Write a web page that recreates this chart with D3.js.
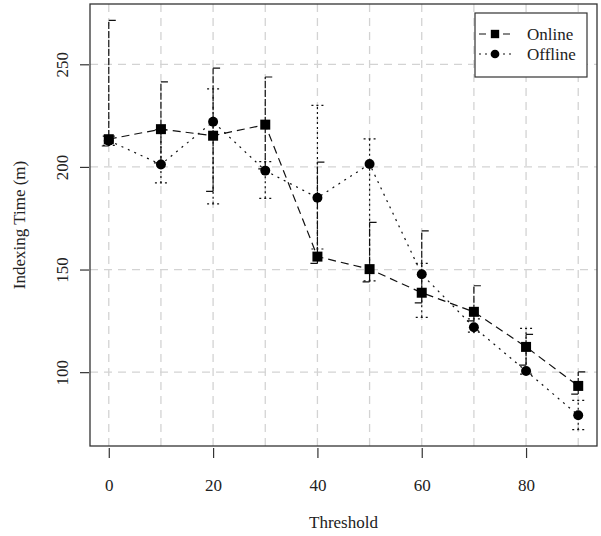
<!DOCTYPE html>
<html>
<head>
<meta charset="utf-8">
<script src="https://cdn.jsdelivr.net/npm/d3@7"></script>
<style>
  body { margin: 0; background: #fff; }
  text { font-family: "Liberation Serif", "DejaVu Serif", serif; fill: #222; }
</style>
</head>
<body>
<svg id="chart" width="601" height="536"></svg>
<script>
// values
var thresholds = [0, 10, 20, 30, 40, 50, 60, 70, 80, 90];

var onlineMean  = [213.5, 218.4, 215.2, 220.6, 156.3, 150.2, 138.7, 129.4, 112.3, 93.3];
var onlineLow   = [210.2, 202.0, 188.1, 199.0, 153.0, 144.0, 133.8, 125.0, 103.4, 89.3];
var onlineHigh  = [271.4, 241.4, 248.1, 243.8, 202.3, 173.0, 168.8, 142.1, 118.4, 100.1];

var offlineMean = [212.8, 201.2, 222.0, 198.2, 185.0, 201.4, 147.7, 121.9, 100.6, 79.0];
var offlineLow  = [210.5, 192.2, 182.0, 184.7, 160.0, 144.5, 126.7, 119.5, 99.0, 72.0];
var offlineHigh = [215.0, 218.0, 238.0, 202.6, 230.0, 213.7, 153.0, 126.0, 121.3, 86.3];

var xTicks = [0, 20, 40, 60, 80];
var yTicks = [100, 150, 200, 250];
var gridX = [0, 10, 20, 30, 40, 50, 60, 70, 80, 90];

var series = [
    { name: "Online", mean: onlineMean, low: onlineLow, high: onlineHigh, dash: "8,5", bar: "7,2", shape: "square" },
    { name: "Offline", mean: offlineMean, low: offlineLow, high: offlineHigh, dash: "2,5", bar: "2,3", shape: "circle" }
];

var svg = d3.select("#chart");
var margin = { top: 4, right: 4, bottom: 90, left: 90 };
var width = 601, height = 536;

// R style 4% padding on both axes
var allVals = onlineLow.concat(offlineLow, onlineHigh, offlineHigh);
var yMin = d3.min(allVals), yMax = d3.max(allVals);
var yPad = (yMax - yMin) * 0.04;
var xPad = (d3.max(thresholds) - d3.min(thresholds)) * 0.04;

var x = d3.scaleLinear()
    .domain([d3.min(thresholds) - xPad, d3.max(thresholds) + xPad])
    .range([margin.left, width - margin.right]);

var y = d3.scaleLinear()
    .domain([yMin - yPad, yMax + yPad])
    .range([height - margin.bottom, margin.top]);

// grid
svg.append("g")
    .selectAll("line")
    .data(gridX)
    .join("line")
    .attr("x1", d => x(d)).attr("x2", d => x(d))
    .attr("y1", margin.top).attr("y2", height - margin.bottom)
    .attr("stroke", "#d3d3d3")
    .attr("stroke-width", 1.3)
    .attr("stroke-dasharray", "8,6");

svg.append("g")
    .selectAll("line")
    .data(yTicks)
    .join("line")
    .attr("x1", margin.left).attr("x2", width - margin.right)
    .attr("y1", d => y(d)).attr("y2", d => y(d))
    .attr("stroke", "#d3d3d3")
    .attr("stroke-width", 1.3)
    .attr("stroke-dasharray", "8,6");

// axes
var xAxis = svg.append("g")
    .attr("transform", `translate(0,${height - margin.bottom + 2})`)
    .call(d3.axisBottom(x).tickValues(xTicks).tickSize(10).tickPadding(21).tickSizeOuter(0));
xAxis.select(".domain").remove();
xAxis.selectAll("line").attr("stroke", "#333").attr("stroke-width", 1.2);
xAxis.selectAll("text").style("font-size", "17px").attr("fill", "#222");

var yAxis = svg.append("g")
    .attr("transform", `translate(${margin.left - 1},0)`)
    .call(d3.axisLeft(y).tickValues(yTicks).tickSize(9).tickSizeOuter(0));
yAxis.select(".domain").remove();
yAxis.selectAll("line").attr("stroke", "#333").attr("stroke-width", 1.2);
yAxis.selectAll(".tick text")
    .style("font-size", "17px")
    .attr("fill", "#222")
    .attr("text-anchor", "middle")
    .attr("transform", "rotate(-90)")
    .attr("x", 0)
    .attr("y", -27)
    .attr("dy", "0.35em");

svg.append("text")
    .attr("x", (margin.left + width - margin.right) / 2)
    .attr("y", height - 8)
    .attr("text-anchor", "middle")
    .style("font-size", "17px")
    .text("Threshold");

svg.append("text")
    .attr("transform", `translate(25,${(margin.top + height - margin.bottom) / 2}) rotate(-90)`)
    .attr("text-anchor", "middle")
    .style("font-size", "17px")
    .text("Indexing Time (m)");

// error bars
series.forEach(function (s) {
    var g = svg.append("g").attr("stroke", "#111").attr("stroke-width", 1.2).attr("fill", "none");
    g.selectAll("line.bar")
        .data(thresholds)
        .join("line")
        .attr("class", "bar")
        .attr("x1", d => x(d)).attr("x2", d => x(d))
        .attr("y1", (d, i) => y(s.low[i])).attr("y2", (d, i) => y(s.high[i]))
        .attr("stroke-dasharray", s.bar);
    if (s.shape === "square") {
        g.selectAll("path.cap")
            .data(thresholds)
            .join("path")
            .attr("class", "cap")
            .attr("d", (d, i) => "M" + x(d) + "," + y(s.high[i]) + "h7" +
                "M" + (x(d) - 7) + "," + y(s.low[i]) + "h7");
    } else {
        g.selectAll("path.cap")
            .data(thresholds)
            .join("path")
            .attr("class", "cap")
            .attr("stroke-dasharray", "2,3")
            .attr("d", (d, i) => "M" + (x(d) - 6) + "," + y(s.high[i]) + "h12" +
                "M" + (x(d) - 6) + "," + y(s.low[i]) + "h12");
    }
});

// lines and points
var line = d3.line().x((d, i) => x(thresholds[i])).y(d => y(d));

series.forEach(function (s) {
    svg.append("path")
        .datum(s.mean)
        .attr("d", line)
        .attr("fill", "none")
        .attr("stroke", "#111")
        .attr("stroke-width", 1.2)
        .attr("stroke-dasharray", s.dash);
});

series.forEach(function (s) {
    var sym = d3.symbol().type(s.shape === "square" ? d3.symbolSquare : d3.symbolCircle)
        .size(s.shape === "square" ? 100 : 78);
    svg.append("g")
        .selectAll("path")
        .data(s.mean)
        .join("path")
        .attr("d", sym)
        .attr("transform", (d, i) => `translate(${x(thresholds[i])},${y(d)})`)
        .attr("fill", "#000");
});

// plot box
svg.append("rect")
    .attr("x", margin.left).attr("y", margin.top)
    .attr("width", width - margin.right - margin.left)
    .attr("height", height - margin.bottom - margin.top)
    .attr("fill", "none")
    .attr("stroke", "#333")
    .attr("stroke-width", 1.3);

// legend
var legend = svg.append("g");
legend.append("rect")
    .attr("x", 475).attr("y", 13)
    .attr("width", 112).attr("height", 64)
    .attr("fill", "#fff")
    .attr("stroke", "#333")
    .attr("stroke-width", 1.2);

var rows = legend.selectAll("g.row")
    .data(series)
    .join("g")
    .attr("class", "row")
    .attr("transform", (d, i) => `translate(0,${34 + i * 20})`);

rows.append("line")
    .attr("x1", 479).attr("x2", 512)
    .attr("y1", 0).attr("y2", 0)
    .attr("stroke", "#111")
    .attr("stroke-width", 1.2)
    .attr("stroke-dasharray", d => d.shape === "square" ? "7,5" : "2,4");

rows.append("path")
    .attr("d", d => d3.symbol().type(d.shape === "square" ? d3.symbolSquare : d3.symbolCircle)
        .size(d.shape === "square" ? 70 : 60)())
    .attr("transform", "translate(495,0)")
    .attr("fill", "#000");

rows.append("text")
    .attr("x", 527)
    .attr("dy", "0.35em")
    .style("font-size", "17px")
    .text(d => d.name);
</script>
</body>
</html>
